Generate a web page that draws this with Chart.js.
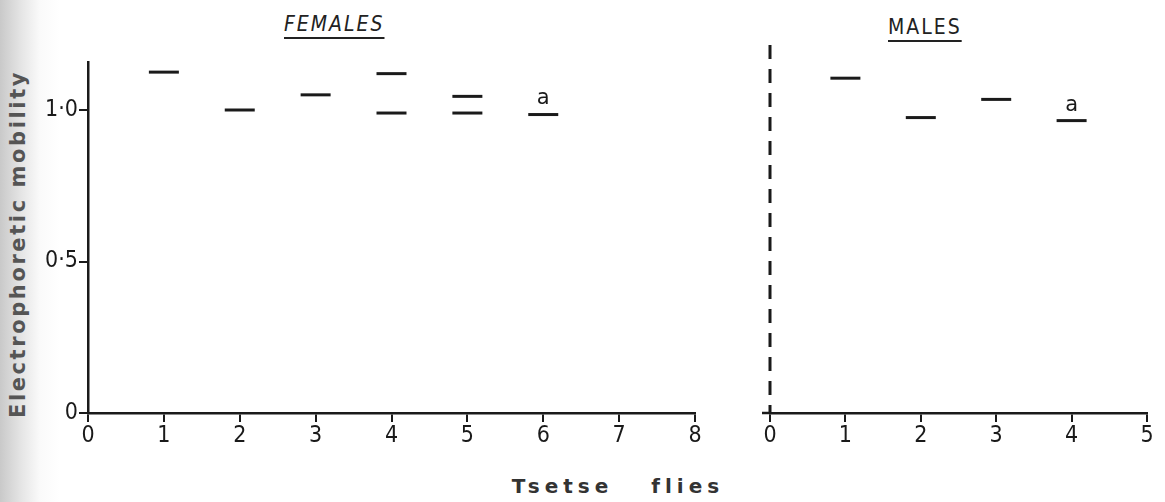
<!DOCTYPE html>
<html>
<head>
<meta charset="utf-8">
<script src="https://cdn.jsdelivr.net/npm/chart.js@4"></script>
<style>
  body { margin: 0; width: 1165px; height: 502px; overflow: hidden;
         background: linear-gradient(to right, #c9c9c9 0px, #e6e6e6 22px, #fafafa 40px, #ffffff 60px); }
  .wrap { position: absolute; }
  .title { position: absolute; font-family: 'DejaVu Sans Condensed', 'Liberation Sans Narrow', sans-serif;
           font-size: 21px; color: #222; letter-spacing: 2px; text-decoration: underline;
           text-underline-offset: 6px; text-decoration-thickness: 2px; }
  #ytitle { position: absolute; left: 18px; top: 244px; transform: translate(-50%, -50%) rotate(-90deg);
            white-space: nowrap; font-family: 'DejaVu Sans', sans-serif; font-weight: bold;
            font-size: 21px; letter-spacing: 2.6px; color: #555; }
  #xtitle { position: absolute; left: 618px; top: 486px; transform: translate(-50%, -50%);
            white-space: nowrap; font-family: 'DejaVu Sans', sans-serif; font-weight: bold;
            font-size: 20px; letter-spacing: 5px; word-spacing: 26px; color: #333; }
</style>
</head>
<body>
<div class="title" style="left:284px; top:12px; font-style: italic;">FEMALES</div>
<div class="title" style="left:888px; top:15px;">MALES</div>
<div id="ytitle">Electrophoretic mobility</div>
<div id="xtitle">Tsetse flies</div>
<div class="wrap" style="left:0; top:0; width:720px; height:502px;"><canvas id="femaleChart"></canvas></div>
<div class="wrap" style="left:700px; top:0; width:465px; height:502px;"><canvas id="maleChart"></canvas></div>
<script>
// band positions
const femaleLanes = [1, 2, 3, 4, 4, 5, 5, 6];
const femaleMobility = [1.125, 1.0, 1.05, 1.12, 0.99, 1.045, 0.99, 0.985];
const maleLanes = [1, 2, 3, 4];
const maleMobility = [1.105, 0.975, 1.035, 0.965];

const femaleXTicks = [0, 1, 2, 3, 4, 5, 6, 7, 8];
const maleXTicks = [0, 1, 2, 3, 4, 5];
const yTicks = [0, 0.5, 1.0];
const yTickLabels = ['0', '0·5', '1·0'];

// letter marks written over a band
const femaleMarks = [{ lane: 6, text: 'a' }];
const maleMarks = [{ lane: 4, text: 'a' }];

const ink = '#1a1a1a';
const tickFont = { family: "'DejaVu Sans Condensed', 'Liberation Sans Narrow', sans-serif", size: 23 };

function toPoints(lanes, values) {
    return lanes.map(function(l, i) { return { x: l, y: values[i] }; });
}

const markPlugin = {
    id: 'marks',
    afterDatasetsDraw: function(chart, args, opts) {
        let ctx = chart.ctx;
        let xs = chart.scales.x, ys = chart.scales.y;
        ctx.save();
        ctx.fillStyle = ink;
        ctx.font = "21px 'DejaVu Sans', sans-serif";
        ctx.textAlign = 'center';
        ctx.textBaseline = 'bottom';
        opts.list.forEach(function(m) {
            let pts = chart.data.datasets[0].data.filter(function(p) { return p.x === m.lane; });
            let y = Math.min.apply(null, pts.map(function(p) { return ys.getPixelForValue(p.y); }));
            ctx.fillText(m.text, xs.getPixelForValue(m.lane), y - 5);
        });
        // dashed divider standing in for the males' y axis
        if (opts.divider) {
            let x = xs.getPixelForValue(0);
            ctx.strokeStyle = ink;
            ctx.lineWidth = 3;
            ctx.setLineDash([14, 10]);
            ctx.beginPath();
            ctx.moveTo(x, chart.chartArea.top);
            ctx.lineTo(x, chart.chartArea.bottom);
            ctx.stroke();
            ctx.setLineDash([]);
            ctx.lineWidth = 2.5;
            ctx.beginPath();
            ctx.moveTo(x - 8, chart.chartArea.bottom);
            ctx.lineTo(x, chart.chartArea.bottom);
            ctx.stroke();
        }
        ctx.restore();
    }
};

function makeChart(id, lanes, values, xTicks, yMax, yWidth, padding, marks, showY) {
    let ctx = document.getElementById(id).getContext('2d');
    return new Chart(ctx, {
        type: 'scatter',
        data: {
            datasets: [{
                data: toPoints(lanes, values),
                pointStyle: 'line',
                pointRadius: 15,
                pointHoverRadius: 15,
                borderColor: ink,
                borderWidth: 3
            }]
        },
        options: {
            responsive: true,
            maintainAspectRatio: false,
            animation: false,
            layout: { padding: padding },
            plugins: { legend: { display: false }, tooltip: { enabled: false },
                       marks: { list: marks, divider: !showY } },
            scales: {
                x: {
                    type: 'linear',
                    min: 0,
                    max: xTicks[xTicks.length - 1],
                    afterBuildTicks: function(s) { s.ticks = xTicks.map(function(v) { return { value: v }; }); },
                    afterFit: function(s) { s.height = 89; },
                    grid: { drawOnChartArea: false, tickLength: 9, color: ink, lineWidth: 2 },
                    border: { color: ink, width: 2.5 },
                    ticks: { color: ink, font: tickFont, padding: 0, maxRotation: 0 }
                },
                y: {
                    type: 'linear',
                    min: 0,
                    max: yMax,
                    afterBuildTicks: function(s) { s.ticks = yTicks.map(function(v) { return { value: v }; }); },
                    afterFit: function(s) { s.width = yWidth; },
                    grid: showY ? { drawOnChartArea: false, tickLength: 9, color: ink, lineWidth: 2 }
                                : { display: false },
                    border: showY ? { color: ink, width: 2.5 } : { display: false },
                    ticks: {
                        display: showY,
                        color: ink,
                        font: tickFont,
                        padding: 1,
                        callback: function(v) { return yTickLabels[yTicks.indexOf(v)]; }
                    }
                }
            }
        },
        plugins: [markPlugin]
    });
}

makeChart('femaleChart', femaleLanes, femaleMobility, femaleXTicks, 351 / 303, 88,
          { top: 62, right: 25, left: 0, bottom: 0 }, femaleMarks, true);
makeChart('maleChart', maleLanes, maleMobility, maleXTicks, 368 / 303, 70,
          { top: 45, right: 15, left: 0, bottom: 0 }, maleMarks, false);
</script>
</body>
</html>
